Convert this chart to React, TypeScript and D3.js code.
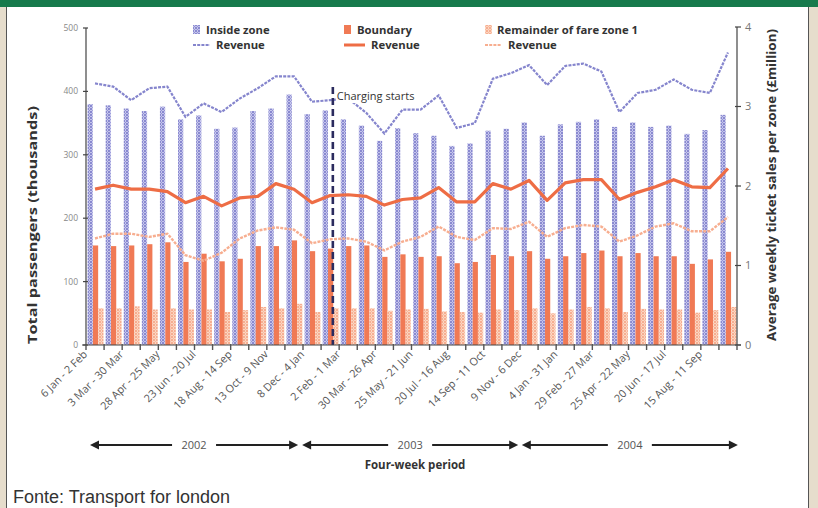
import React from "react";
import * as d3 from "d3";

const periods = [
  "6 Jan - 2 Feb","3 Feb - 2 Mar","3 Mar - 30 Mar","31 Mar - 27 Apr","28 Apr - 25 May","26 May - 22 Jun","23 Jun - 20 Jul","21 Jul - 17 Aug","18 Aug - 14 Sep","15 Sep - 12 Oct","13 Oct - 9 Nov","10 Nov - 7 Dec","8 Dec - 4 Jan",
  "5 Jan - 1 Feb","2 Feb - 1 Mar","2 Mar - 29 Mar","30 Mar - 26 Apr","27 Apr - 24 May","25 May - 21 Jun","22 Jun - 19 Jul","20 Jul - 16 Aug","17 Aug - 13 Sep","14 Sep - 11 Oct","12 Oct - 8 Nov","9 Nov - 6 Dec","7 Dec - 3 Jan",
  "4 Jan - 31 Jan","1 Feb - 28 Feb","29 Feb - 27 Mar","28 Mar - 24 Apr","25 Apr - 22 May","23 May - 19 Jun","20 Jun - 17 Jul","18 Jul - 14 Aug","15 Aug - 11 Sep","12 Sep - 9 Oct",
];

const insideZone = [380,378,373,369,376,356,362,341,343,369,373,395,364,370,356,346,322,342,334,330,314,318,338,341,351,330,348,352,356,344,351,344,346,333,339,363];
const boundary = [157,156,157,159,162,131,144,132,136,156,156,165,148,152,156,157,139,143,139,140,129,131,142,140,148,136,140,145,149,140,145,140,140,128,135,147];
const remainder = [58,58,61,56,58,56,56,52,55,60,58,65,52,58,58,58,54,56,57,53,52,51,56,55,58,50,56,60,58,52,57,56,56,51,55,60];

const insideRevenue = [3.29,3.25,3.08,3.23,3.25,2.87,3.04,2.93,3.10,3.23,3.38,3.38,3.06,3.08,3.10,2.92,2.66,2.96,2.96,3.14,2.73,2.79,3.35,3.42,3.52,3.27,3.51,3.54,3.44,2.93,3.17,3.21,3.34,3.21,3.17,3.68];
const boundaryRevenue = [1.96,2.01,1.96,1.96,1.93,1.79,1.87,1.75,1.85,1.87,2.03,1.96,1.79,1.88,1.89,1.87,1.76,1.83,1.85,1.98,1.80,1.80,2.03,1.96,2.07,1.82,2.04,2.08,2.08,1.83,1.92,1.99,2.08,1.99,1.98,2.22];
const remainderRevenue = [1.34,1.40,1.40,1.36,1.40,1.13,1.06,1.16,1.34,1.44,1.48,1.45,1.28,1.33,1.34,1.30,1.19,1.30,1.36,1.49,1.36,1.32,1.47,1.46,1.55,1.36,1.47,1.51,1.49,1.30,1.38,1.49,1.53,1.43,1.43,1.61];

const leftTicks = [0, 100, 200, 300, 400, 500];
const rightTicks = [0, 1, 2, 3, 4];
const years = [
  { label: "2002", from: 0.22, to: 11.73 },
  { label: "2003", from: 11.95, to: 23.9 },
  { label: "2004", from: 24.1, to: 36.05 },
];
const chargingStartIndex = 13.65;

const W = 818, H = 508;
const plot = { left: 86, right: 737, top: 28, bottom: 345 };
const FONT = "'Open Sans', 'DejaVu Sans', sans-serif";

export default function App() {
  const idx = d3.range(periods.length);
  const x = d3.scaleBand<number>().domain(idx).range([plot.left, plot.right]).padding(0);
  const xc = d3.scaleLinear().domain([0, periods.length]).range([plot.left, plot.right]);
  const sub = d3.scaleBand<string>().domain(["inside", "boundary", "remainder"]).range([1.5, x.bandwidth() - 0.5]).padding(0.02);
  const yL = d3.scaleLinear().domain([0, 500]).range([plot.bottom, plot.top]);
  const yR = d3.scaleLinear().domain([0, 4]).range([plot.bottom, plot.top - 1]);
  const cx = (i: number) => (x(i) as number) + x.bandwidth() / 2;
  const line = (vals: number[]) => d3.line<number>().x((_, i) => cx(i)).y((v) => yR(v)).curve(d3.curveLinear)(vals) as string;

  const groups = [
    { key: "inside", vals: insideZone, fill: "url(#patInside)" },
    { key: "boundary", vals: boundary, fill: "#f07a55" },
    { key: "remainder", vals: remainder, fill: "url(#patRemainder)" },
  ];
  const chargeX = xc(chargingStartIndex);
  const arrowY = 445;

  return (
    <svg width={W} height={H} style={{ position: "absolute", left: 0, top: 0 }} fontFamily={FONT}>
      <defs>
        <pattern id="patInside" width="3" height="3" patternUnits="userSpaceOnUse">
          <rect width="3" height="3" fill="#c6c6ec" />
          <circle cx="1" cy="1" r="0.95" fill="#6f6fc4" />
          <circle cx="2.5" cy="2.5" r="0.6" fill="#8f8fd4" />
        </pattern>
        <pattern id="patRemainder" width="3" height="3" patternUnits="userSpaceOnUse">
          <rect width="3" height="3" fill="#fcd6c2" />
          <circle cx="1" cy="1" r="0.95" fill="#f49d7c" />
          <circle cx="2.5" cy="2.5" r="0.6" fill="#f8b89b" />
        </pattern>
      </defs>
      <rect width={W} height={H} fill="#e6ddcc" />
      <rect x={6.5} y={6.5} width={802} height={H} fill="#ffffff" stroke="#555" strokeWidth={1} />
      <rect x={0} y={0} width={W} height={7} fill="#177a4c" />

      {/* bars */}
      {groups.map((g) =>
        g.vals.map((v, i) => (
          <rect
            key={g.key + i}
            x={(x(i) as number) + (sub(g.key) as number)}
            y={yL(v)}
            width={sub.bandwidth()}
            height={yL(0) - yL(v)}
            fill={g.fill}
          />
        ))
      )}

      {/* revenue lines */}
      <path d={line(insideRevenue)} fill="none" stroke="#8585cd" strokeWidth={2.2} strokeDasharray="3,1.2" />
      <path d={line(remainderRevenue)} fill="none" stroke="#f7ae90" strokeWidth={2.4} strokeDasharray="3,1.2" />
      <path d={line(boundaryRevenue)} fill="none" stroke="#ee6d45" strokeWidth={3.2} strokeLinejoin="round" />

      {/* charging starts */}
      <line x1={chargeX} x2={chargeX} y1={87} y2={plot.bottom} stroke="#2b2b5e" strokeWidth={2.6} strokeDasharray="7,4" />
      <rect x={chargeX + 3} y={89} width={92} height={14} fill="#ffffff" />
      <text x={chargeX + 4} y={100} fontSize={11} fill="#333">Charging starts</text>

      {/* left axis */}
      <line x1={plot.left} x2={plot.left} y1={plot.top} y2={plot.bottom} stroke="#444" strokeWidth={1.2} />
      {leftTicks.map((t) => (
        <g key={"l" + t}>
          <line x1={plot.left - 3} x2={plot.left + 2} y1={yL(t)} y2={yL(t)} stroke="#444" strokeWidth={1.2} />
          <text x={plot.left - 8} y={yL(t)} dy="0.35em" textAnchor="end" fontSize={8.5} fill="#888">{t}</text>
        </g>
      ))}
      {/* right axis */}
      <line x1={plot.right} x2={plot.right} y1={yR(4)} y2={plot.bottom} stroke="#444" strokeWidth={1.2} />
      {rightTicks.map((t) => (
        <g key={"r" + t}>
          <line x1={plot.right - 2} x2={plot.right + 4} y1={yR(t)} y2={yR(t)} stroke="#444" strokeWidth={1.2} />
          <text x={plot.right + 8} y={yR(t)} dy="0.35em" textAnchor="start" fontSize={11} fill="#777">{t}</text>
        </g>
      ))}
      {/* x axis */}
      <line x1={plot.left - 4} x2={plot.right + 4} y1={plot.bottom} y2={plot.bottom} stroke="#444" strokeWidth={1.2} />
      {d3.range(periods.length + 1).map((k) => (
        <line key={"xt" + k} x1={xc(k)} x2={xc(k)} y1={plot.bottom - 1} y2={plot.bottom + 5} stroke="#555" strokeWidth={1.4} />
      ))}
      {periods.map((p, i) =>
        i % 2 === 0 ? (
          <text key={"xl" + i} transform={`translate(${xc(i) + 2},${plot.bottom + 10}) rotate(-45)`} textAnchor="end" fontSize={10.8} fill="#555">
            {p}
          </text>
        ) : null
      )}

      {/* axis titles */}
      <text transform={`translate(37,${(105 + 345) / 2}) rotate(-90)`} textAnchor="middle" fontSize={11.5} fontWeight={700} fill="#333" textLength={238} lengthAdjust="spacingAndGlyphs">
        Total passengers (thousands)
      </text>
      <text transform={`translate(776,${(28 + 342) / 2}) rotate(-90)`} textAnchor="middle" fontSize={11.5} fontWeight={700} fill="#333" textLength={312} lengthAdjust="spacingAndGlyphs">
        Average weekly ticket sales per zone (£million)
      </text>

      {/* legend */}
      <g fontSize={11.3} fontWeight={700} fill="#333">
        <rect x={193} y={25} width={7} height={9} fill="url(#patInside)" />
        <text x={206} y={34}>Inside zone</text>
        <rect x={344} y={25} width={7} height={9} fill="#f07a55" />
        <text x={357} y={34}>Boundary</text>
        <rect x={485} y={25} width={7} height={9} fill="url(#patRemainder)" />
        <text x={497} y={34}>Remainder of fare zone 1</text>
        <line x1={193} x2={210} y1={45} y2={45} stroke="#8585cd" strokeWidth={2} strokeDasharray="3,1.2" />
        <text x={216} y={49}>Revenue</text>
        <line x1={344} x2={365} y1={45} y2={45} stroke="#ee6d45" strokeWidth={3} />
        <text x={371} y={49}>Revenue</text>
        <line x1={485} x2={501} y1={45} y2={45} stroke="#f7ae90" strokeWidth={2} strokeDasharray="3,1.2" />
        <text x={508} y={49}>Revenue</text>
      </g>

      {/* year arrows */}
      {years.map((yr) => {
        const a = xc(yr.from), b = xc(yr.to), m = (a + b) / 2;
        return (
          <g key={yr.label}>
            <line x1={a + 6} x2={m - 22} y1={arrowY} y2={arrowY} stroke="#222" strokeWidth={2} />
            <line x1={m + 22} x2={b - 6} y1={arrowY} y2={arrowY} stroke="#222" strokeWidth={2} />
            <path d={`M${a},${arrowY} L${a + 9},${arrowY - 4.5} L${a + 9},${arrowY + 4.5} Z`} fill="#222" />
            <path d={`M${b},${arrowY} L${b - 9},${arrowY - 4.5} L${b - 9},${arrowY + 4.5} Z`} fill="#222" />
            <text x={m} y={arrowY} dy="0.35em" textAnchor="middle" fontSize={11} fill="#555">{yr.label}</text>
          </g>
        );
      })}
      <text x={415} y={469} textAnchor="middle" fontSize={11.5} fontWeight={700} fill="#333">Four-week period</text>

      <text x={13} y={503} fontSize={18} fill="#333" fontFamily="'Liberation Sans', Arial, sans-serif">Fonte: Transport for london</text>
    </svg>
  );
}
